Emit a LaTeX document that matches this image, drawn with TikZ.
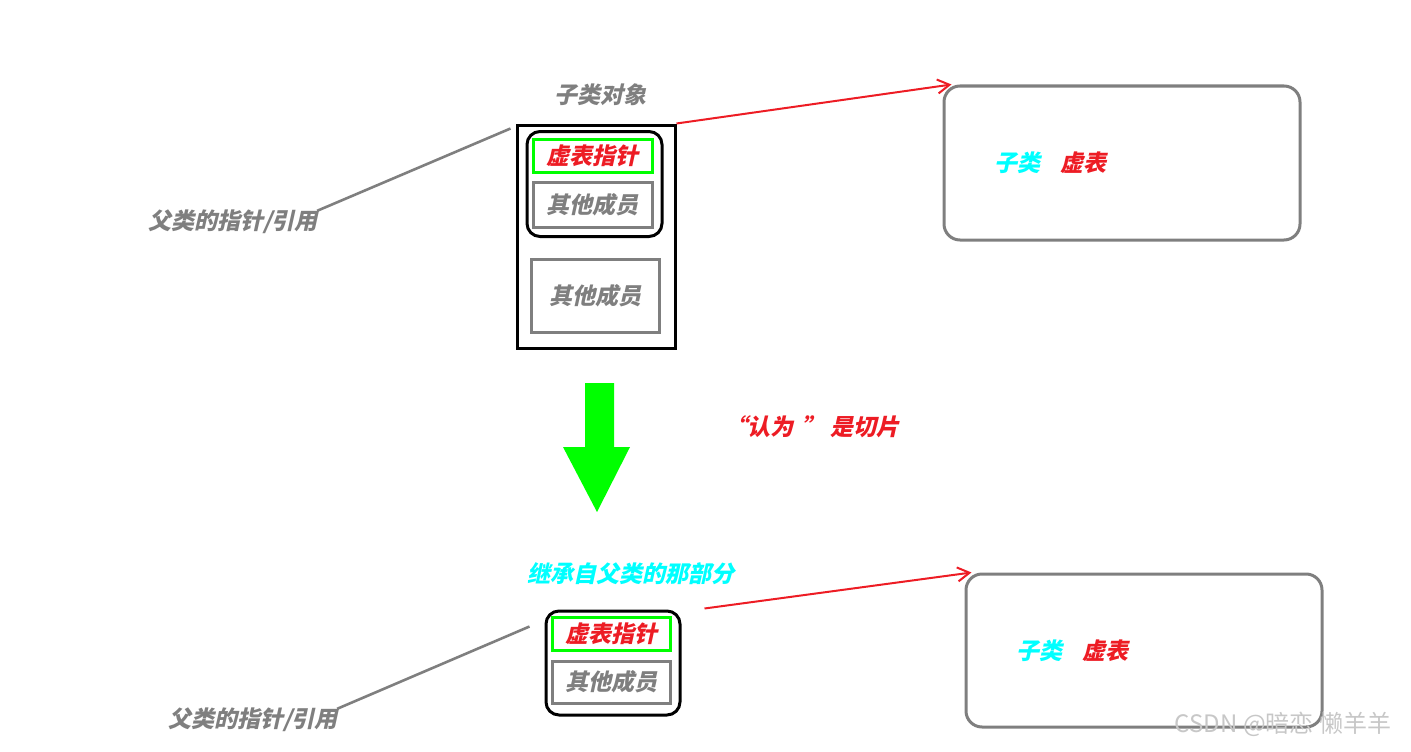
\documentclass[tikz,border=0pt]{standalone}
\usepackage{fontspec}
\usepackage{tikz}
\usetikzlibrary{arrows.meta,positioning,calc}
\newfontfamily\cjk[FakeSlant=0.22]{Noto Sans CJK SC}
\newfontfamily\cjkplain{Noto Sans CJK SC}
\definecolor{vred}{HTML}{ED1C24}
\definecolor{vgreen}{HTML}{00FF00}
\definecolor{vcyan}{HTML}{00FFFF}
\definecolor{vgray}{HTML}{7F7F7F}

\begin{document}
\begin{tikzpicture}[x=1pt, y=-1pt, every node/.style={font=\cjk\bfseries\fontsize{23}{27}\selectfont, inner sep=1pt}, objbox/.style={draw=black, line width=3pt, minimum width=158pt, minimum height=223pt}, partbox/.style={draw=black, line width=3pt, rounded corners=13pt, minimum width=135pt, minimum height=105pt}, ptrbox/.style={draw=vgreen, line width=3pt, text=vred, minimum width=119pt, minimum height=33pt}, membox/.style={draw=vgray, line width=3pt, text=vgray, minimum width=119pt, minimum height=45pt}, tabbox/.style={draw=vgray, line width=3pt, rounded corners=16pt, minimum width=356pt, minimum height=154pt}, ptrline/.style={vgray, line width=2.6pt}, arr/.style={-{Straight Barb[length=12pt,width=14pt]}, vred, line width=2pt}]
\useasboundingbox (0,0) rectangle (1411,752);
% upper half: the whole derived object
\node[text=vgray] (objtitle) at (600,95) {子类对象};
\node[objbox] (obj) at (596,236.5) {};
\node[partbox] (part) at (594.5,184) {};
\node[ptrbox] (vptr) at (592.5,155.5) {虚表指针};
\node[membox] (mem) at (592.5,205) {其他成员};
\node[membox, minimum width=128pt, minimum height=73pt] (mem2) at (595,295.5) {其他成员};
\node[tabbox] (vtab) at (1122,163) {};
\node (vtabtxt) at (1050,163) {\textcolor{vcyan}{子类}\hspace{20pt}\textcolor{vred}{虚表}};
\node[text=vgray] (ref) at (233,222) {父类的指针/引用};
\draw[ptrline] ($(ref.north east)+(-2,2)$) -- ($(obj.north west)+(-5,5)$);
\draw[arr] (obj.north east) -- ($(vtab.north west)+(9,0)$);
% slicing arrow
\fill[vgreen] (585,383) -- (614,383) -- (614,447) -- (630,447) -- (597,512) -- (563,447) -- (585,447) -- cycle;
\node[text=vred] (slice) at (812,427) {“认为\hspace{8pt}” 是切片};
% lower half: the base part only
\node[text=vcyan] (basetitle) at (631,574) {继承自父类的那部分};
\node[partbox, minimum width=134pt, minimum height=104pt] (part2) at (613,663) {};
\node[ptrbox, minimum width=118pt] (vptr2) at (611,633.5) {虚表指针};
\node[membox, minimum width=118pt, minimum height=42pt] (mem3) at (611,682) {其他成员};
\node[tabbox, minimum height=153pt] (vtab2) at (1144,650.5) {};
\node (vtabtxt2) at (1072,651) {\textcolor{vcyan}{子类}\hspace{20pt}\textcolor{vred}{虚表}};
\node[text=vgray] (ref2) at (253,720) {父类的指针/引用};
\draw[ptrline] ($(ref2.north east)+(-2,2)$) -- ($(part2.north west)+(-15,17)$);
\draw[arr] ($(part2.north east)+(23,-1)$) -- ($(vtab2.north west)+(7,0)$);
\node[font=\cjkplain\fontsize{24}{28}\selectfont, text=black!22] (mark) at (1283,724) {CSDN @暗恋 懒羊羊};
\end{tikzpicture}
\end{document}
